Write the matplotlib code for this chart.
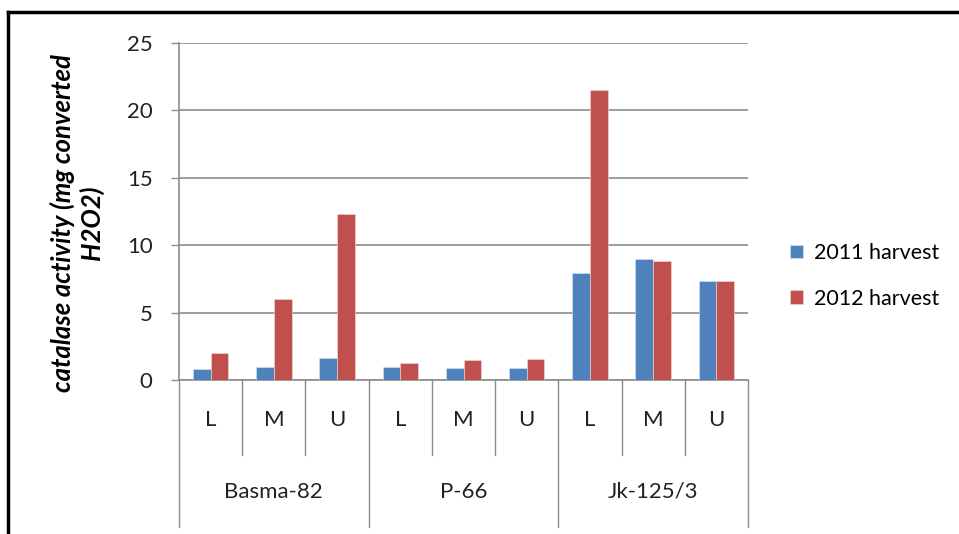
import matplotlib.pyplot as plt
import numpy as np
from matplotlib.lines import Line2D
import matplotlib.transforms as mtransforms

plt.rcParams['font.family'] = ['Lato', 'DejaVu Sans']

varieties = ['Basma-82', 'P-66', 'Jk-125/3']
positions = ['L', 'M', 'U']
harvest_2011 = [0.79, 0.97, 1.63, 0.97, 0.87, 0.87, 7.92, 8.96, 7.35]
harvest_2012 = [2.03, 6.0, 12.3, 1.26, 1.46, 1.54, 21.5, 8.81, 7.35]
series_names = ['2011 harvest', '2012 harvest']

blue = '#4F81BD'
red = '#C0504D'
grid_col = '#8C8C8C'

fig = plt.figure(figsize=(9.59, 5.34), dpi=100)
ax = fig.add_axes([179/959, 1 - 380/534, (748 - 179)/959, (380 - 43)/534])

x = np.arange(len(harvest_2011))
w = 0.28
ax.bar(x - w/2, harvest_2011, w, color=blue, label=series_names[0], zorder=3,
       edgecolor='#dde6f0', linewidth=0.4)
ax.bar(x + w/2, harvest_2012, w, color=red, label=series_names[1], zorder=3,
       edgecolor='#f0dada', linewidth=0.4)

ax.set_xlim(-0.5, len(x) - 0.5)
ax.set_ylim(0, 25)
ax.set_yticks([0, 5, 10, 15, 20, 25])
ax.yaxis.grid(True, color=grid_col, linewidth=1.2)
ax.set_axisbelow(True)
ax.tick_params(axis='y', length=6, width=1, color=grid_col, labelsize=16,
               pad=13, labelcolor='#222222')
ax.set_xticks([])
for s in ['top', 'right']:
    ax.spines[s].set_visible(False)
for s in ['left', 'bottom']:
    ax.spines[s].set_color(grid_col)
    ax.spines[s].set_linewidth(1.2)

# two-level category axis under the bars
trans = mtransforms.blended_transform_factory(ax.transData, ax.transAxes)
ax_h = 337.0
inner_y = -75 / ax_h
outer_y = -147 / ax_h
for i in range(len(x) + 1):
    b = i - 0.5
    y_end = outer_y if i % 3 == 0 else inner_y
    ax.add_line(Line2D([b, b], [0, y_end], transform=trans, color=grid_col,
                       linewidth=1, clip_on=False))
for i in range(len(x)):
    ax.text(i, -40 / ax_h, positions[i % 3], transform=trans, ha='center',
            va='center', fontsize=16, color='#222222')
for g, name in enumerate(varieties):
    ax.text(3*g + 1, -112 / ax_h, name, transform=trans, ha='center',
            va='center', fontsize=16, color='#222222')

ax.set_ylabel('catalase activity (mg converted\nH2O2)', fontsize=18.5,
              fontweight='bold', fontstyle='italic', linespacing=1.15)
ax.yaxis.set_label_coords(-0.132, 0.466)

leg = fig.legend(loc='center left', bbox_to_anchor=(771/959, 1 - 276/534),
                 frameon=False, fontsize=15.5, handlelength=0.6,
                 handleheight=0.6, handletextpad=0.5, labelspacing=1.2)

# frame around the figure (left and top edges)
fig.add_artist(Line2D([8/959, 8/959], [0, 1 - 12/534], transform=fig.transFigure,
                      color='black', linewidth=2.5))
fig.add_artist(Line2D([8/959, 1], [1 - 12/534, 1 - 12/534], transform=fig.transFigure,
                      color='black', linewidth=2.5))

fig.savefig('out.png', dpi=100)
